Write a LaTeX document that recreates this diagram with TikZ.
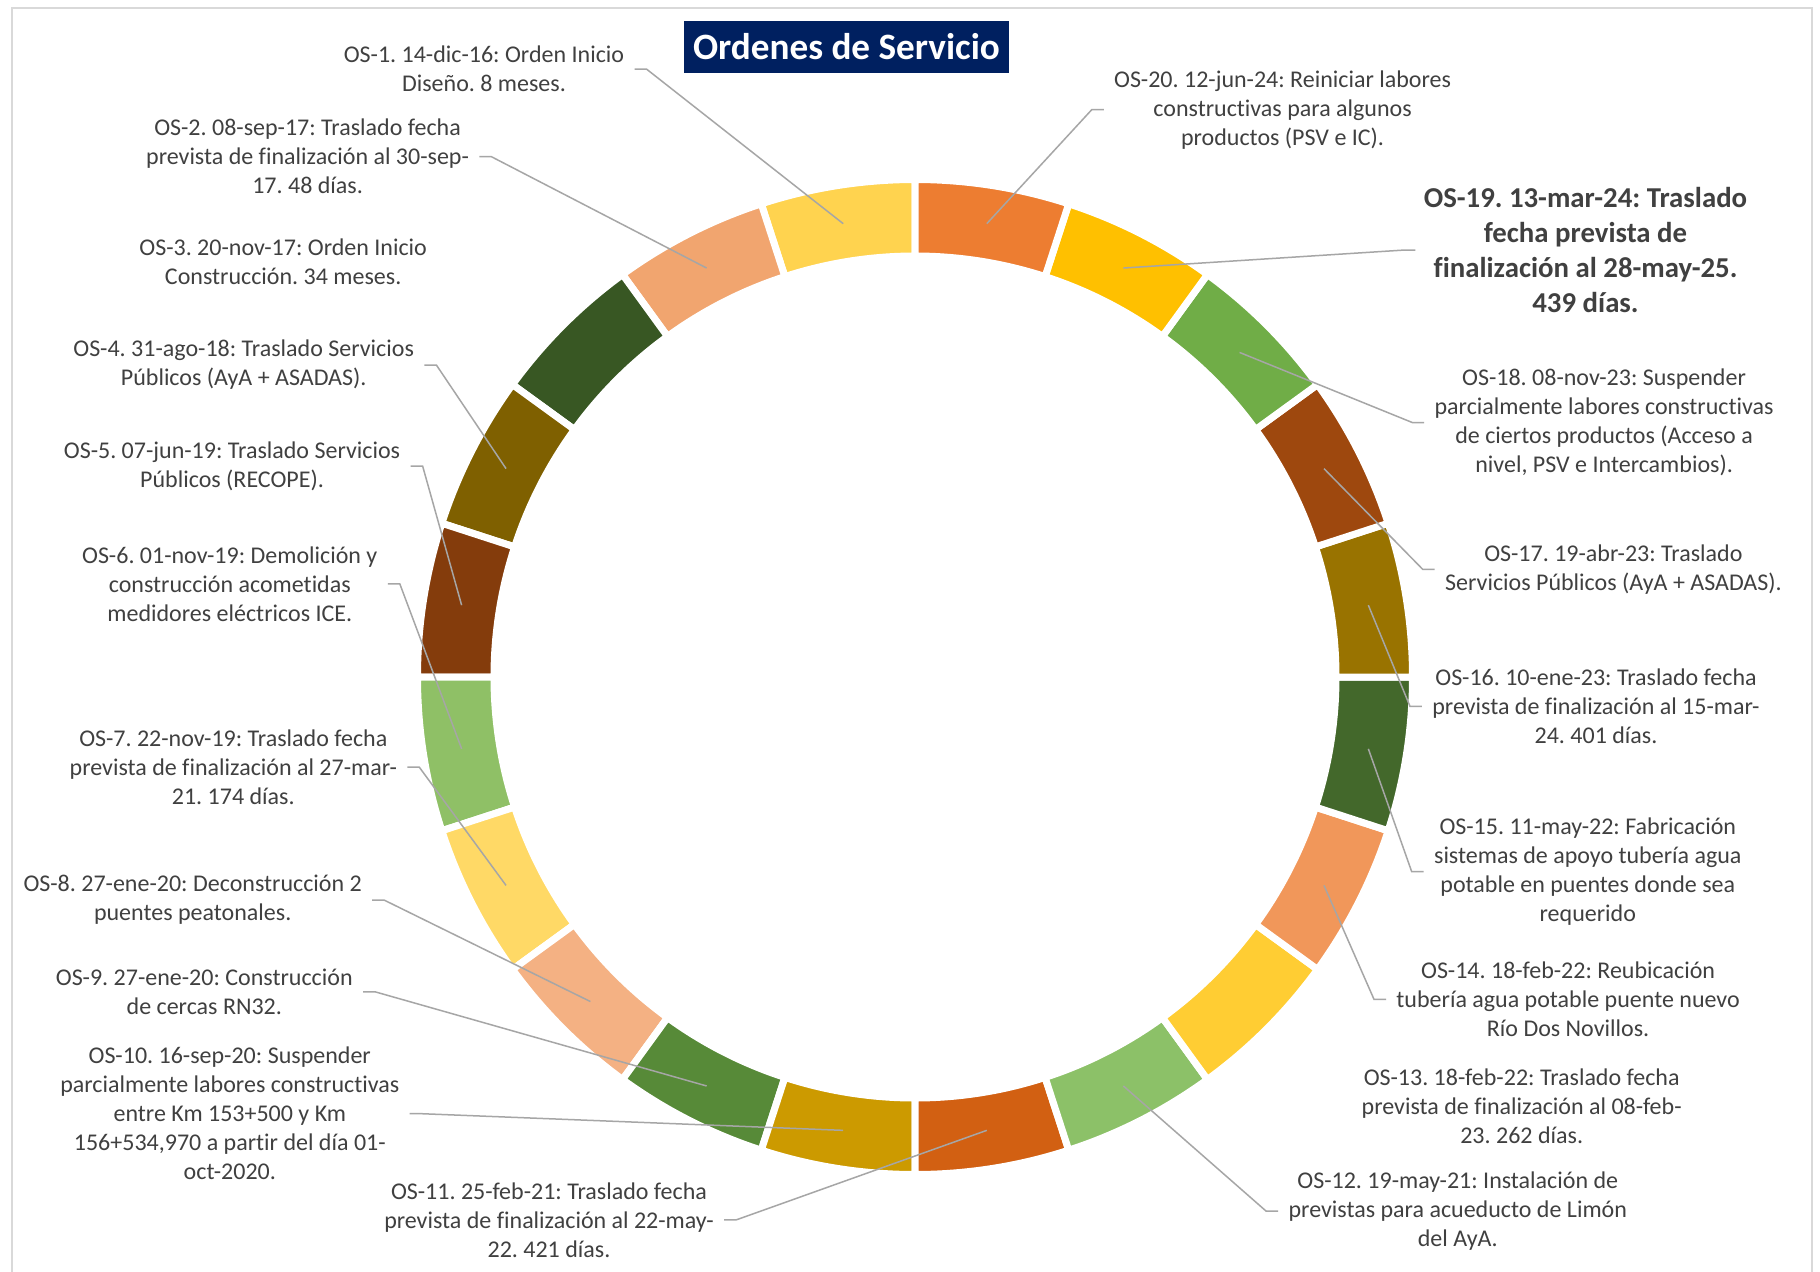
\documentclass[tikz,border=0pt]{standalone}
\usepackage{fontspec}
\setmainfont{Carlito}[Ligatures=NoCommon]
\frenchspacing
\definecolor{txt}{HTML}{404040}
\definecolor{lead}{HTML}{A6A6A6}
\definecolor{frame}{HTML}{D9D9D9}
\definecolor{navy}{HTML}{002060}
\definecolor{c1}{HTML}{FFD34F}
\definecolor{c2}{HTML}{F1A56F}
\definecolor{c3}{HTML}{385723}
\definecolor{c4}{HTML}{7F6000}
\definecolor{c5}{HTML}{843C0C}
\definecolor{c6}{HTML}{8FC066}
\definecolor{c7}{HTML}{FFD966}
\definecolor{c8}{HTML}{F4B183}
\definecolor{c9}{HTML}{578A38}
\definecolor{c10}{HTML}{CC9A00}
\definecolor{c11}{HTML}{D26012}
\definecolor{c12}{HTML}{8CC168}
\definecolor{c13}{HTML}{FFCD33}
\definecolor{c14}{HTML}{F1975A}
\definecolor{c15}{HTML}{43682B}
\definecolor{c16}{HTML}{997300}
\definecolor{c17}{HTML}{9E480E}
\definecolor{c18}{HTML}{70AD47}
\definecolor{c19}{HTML}{FFC000}
\definecolor{c20}{HTML}{ED7D31}
\begin{document}
\begin{tikzpicture}[x=0.5pt,y=0.5pt,
  lbl/.style={align=center, text=txt, font=\fontsize{12}{14.5}\selectfont, inner xsep=5pt, inner ysep=0pt},
  lblbold/.style={lbl, font=\bfseries\fontsize{14.4}{17.6}\selectfont},
  leader/.style={draw=lead, line width=0.75pt},
  seg/.style={draw=white, line width=3.5pt, line join=miter}]
\useasboundingbox (-915,-594) rectangle (905,677);
\clip (-915,-594) rectangle (905,677);
\fill[white] (-915,-594) rectangle (905,677);
\draw[frame, line width=1pt] (-903,669) rectangle (897,-700);
% ring
\foreach \n in {1,...,20}{
  \pgfmathsetmacro\a{72+18*\n}
  \pgfmathsetmacro\b{90+18*\n}
  \filldraw[seg, fill=c\n] (\a:210.5pt) arc[start angle=\a, end angle=\b, radius=210.5pt]
     -- (\b:248.75pt) arc[start angle=\b, end angle=\a, radius=248.75pt] -- cycle;
  \coordinate (p\n) at ({81+18*\n}:229.5pt);
}
% title
\node[fill=navy, text=white, font=\bfseries\fontsize{18.6}{22}\selectfont, minimum width=162.5pt, minimum height=26pt, inner sep=0pt] (title) at (-68.5,630) {Ordenes de Servicio};
% labels
\node[lbl] (os1) at (-431,607.9) {OS-1. 14-dic-16: Orden Inicio\\Diseño. 8 meses.};
\node[lbl] (os2) at (-607.4,520.3) {OS-2. 08-sep-17: Traslado fecha\\prevista de finalización al 30-sep-\\17. 48 días.};
\node[lbl] (os3) at (-631.8,415.3) {OS-3. 20-nov-17: Orden Inicio\\Construcción. 34 meses.};
\node[lbl] (os4) at (-671.3,312.0) {OS-4. 31-ago-18: Traslado Servicios\\Públicos (AyA + ASADAS).};
\node[lbl] (os5) at (-682.9,211.0) {OS-5. 07-jun-19: Traslado Servicios\\Públicos (RECOPE).};
\node[lbl] (os6) at (-685.2,93.2) {OS-6. 01-nov-19: Demolición y\\construcción acometidas\\medidores eléctricos ICE.};
\node[lbl] (os7) at (-681.7,-90.2) {OS-7. 22-nov-19: Traslado fecha\\prevista de finalización al 27-mar-\\21. 174 días.};
\node[lbl] (os8) at (-722.3,-223.1) {OS-8. 27-ene-20: Deconstrucción 2\\puentes peatonales.};
\node[lbl] (os9) at (-710.7,-314.8) {OS-9. 27-ene-20: Construcción\\de cercas RN32.};
\node[lbl] (os10) at (-685.2,-436.7) {OS-10. 16-sep-20: Suspender\\parcialmente labores constructivas\\entre Km 153+500 y Km\\156+534,970 a partir del día 01-\\oct-2020.};
\node[lbl] (os11) at (-366,-542.9) {OS-11. 25-feb-21: Traslado fecha\\prevista de finalización al 22-may-\\22. 421 días.};
\node[lbl] (os12) at (542.8,-534.2) {OS-12. 19-may-21: Instalación de\\previstas para acueducto de Limón\\del AyA.};
\node[lbl] (os13) at (606.7,-429.1) {OS-13. 18-feb-22: Traslado fecha\\prevista de finalización al 08-feb-\\23. 262 días.};
\node[lbl] (os14) at (653.1,-322.4) {OS-14. 18-feb-22: Reubicación\\tubería agua potable puente nuevo\\Río Dos Novillos.};
\node[lbl] (os15) at (672.8,-194.7) {OS-15. 11-may-22: Fabricación\\sistemas de apoyo tubería agua\\potable en puentes donde sea\\requerido};
\node[lbl] (os16) at (681,-29.3) {OS-16. 10-ene-23: Traslado fecha\\prevista de finalización al 15-mar-\\24. 401 días.};
\node[lbl] (os17) at (698.4,107.7) {OS-17. 19-abr-23: Traslado\\Servicios Públicos (AyA + ASADAS).};
\node[lbl] (os18) at (689.1,254.5) {OS-18. 08-nov-23: Suspender\\parcialmente labores constructivas\\de ciertos productos (Acceso a\\nivel, PSV e Intercambios).};
\node[lblbold, inner xsep=4pt] (os19) at (670.5,426.9) {OS-19. 13-mar-24: Traslado\\fecha prevista de\\finalización al 28-may-25.\\439 días.};
\node[lbl] (os20) at (367.6,567.3) {OS-20. 12-jun-24: Reiniciar labores\\constructivas para algunos\\productos (PSV e IC).};
% leaders
\foreach \n in {1,2,4,5,6,7,8,9,10,11}{
  \draw[leader] (os\n.east) -- ++(12,0) -- (p\n);
}
\foreach \n in {12,14,15,16,17,18,19,20}{
  \draw[leader] (os\n.west) -- ++(-12,0) -- (p\n);
}
\end{tikzpicture}
\end{document}
